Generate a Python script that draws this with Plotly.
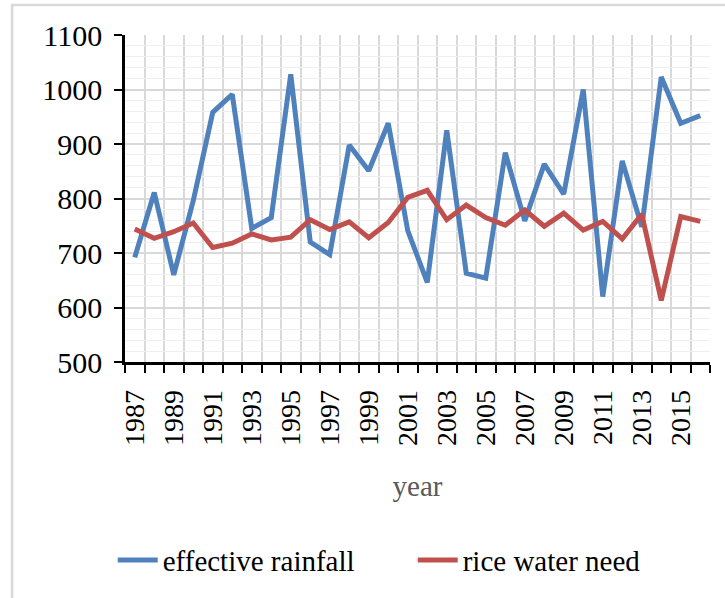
import plotly.graph_objects as go

# Annual series, 1987-2016
years = list(range(1987, 2017))
effective_rainfall = [692, 811, 660, 796, 958, 991, 745, 765, 1028, 720,
                      697, 898, 851, 938, 741, 646, 925, 663, 654, 884,
                      759, 863, 808, 1000, 620, 869, 748, 1023, 938, 952]
rice_water_need = [744, 727, 739, 755, 710, 718, 735, 724, 729, 761,
                   743, 757, 728, 756, 802, 815, 761, 788, 765, 751,
                   779, 749, 773, 742, 758, 726, 771, 613, 767, 758]
year_labels = [str(y) for y in range(1987, 2017, 2)]

FONT = "Liberation Serif"
GRID = "#d9d9d9"

fig = go.Figure()
fig.add_trace(go.Scatter(x=years, y=effective_rainfall, mode="lines",
                         name="effective rainfall",
                         line=dict(color="#4F81BD", width=5)))
fig.add_trace(go.Scatter(x=years, y=rice_water_need, mode="lines",
                         name="rice water need",
                         line=dict(color="#C0504D", width=5)))

# category boundaries for ticks / vertical grid
boundaries = [y - 0.5 for y in years] + [years[-1] + 0.5]

fig.update_xaxes(
    range=[years[0] - 0.5, years[-1] + 0.5],
    tickmode="array",
    tickvals=[int(s) for s in year_labels],
    ticktext=year_labels,
    ticks="",
    tickangle=-90,
    ticklabelstandoff=14,
    tickfont=dict(family=FONT, size=28, color="black"),
    showgrid=False,
    showline=True, linecolor="black", linewidth=2.5,
    zeroline=False,
    minor=dict(tickmode="array", tickvals=boundaries, ticks="outside",
               ticklen=8, tickwidth=2, tickcolor="black",
               showgrid=True, gridcolor=GRID, gridwidth=1.5),
    title=dict(text="year", font=dict(family=FONT, size=29, color="#595959"),
               standoff=31),
)
fig.update_yaxes(
    range=[500, 1100],
    dtick=100,
    ticks="outside", ticklen=8, tickwidth=2, tickcolor="black",
    ticklabelstandoff=6,
    tickfont=dict(family=FONT, size=30, color="black"),
    showgrid=True, gridcolor=GRID, gridwidth=1.5,
    showline=True, linecolor="black", linewidth=2.5,
    zeroline=False,
    minor=dict(dtick=20, showgrid=True, gridcolor="#efefef", gridwidth=1),
)

fig.update_layout(
    width=725, height=598,
    margin=dict(l=125, r=15, t=35, b=236),
    plot_bgcolor="white", paper_bgcolor="white",
    font=dict(family=FONT, color="black"),
    showlegend=True,
    legend=dict(orientation="h", x=-0.021, xanchor="left",
                y=-0.606, yanchor="middle",
                font=dict(family=FONT, size=29, color="black"),
                itemwidth=40, entrywidth=245,
                bgcolor="rgba(0,0,0,0)"),
    shapes=[dict(type="rect", xref="paper", yref="paper",
                 x0=-0.193, x1=1.2, y0=-0.75, y1=1.092,
                 line=dict(color=GRID, width=2.5), layer="below")],
)

fig.write_html("out.html")
